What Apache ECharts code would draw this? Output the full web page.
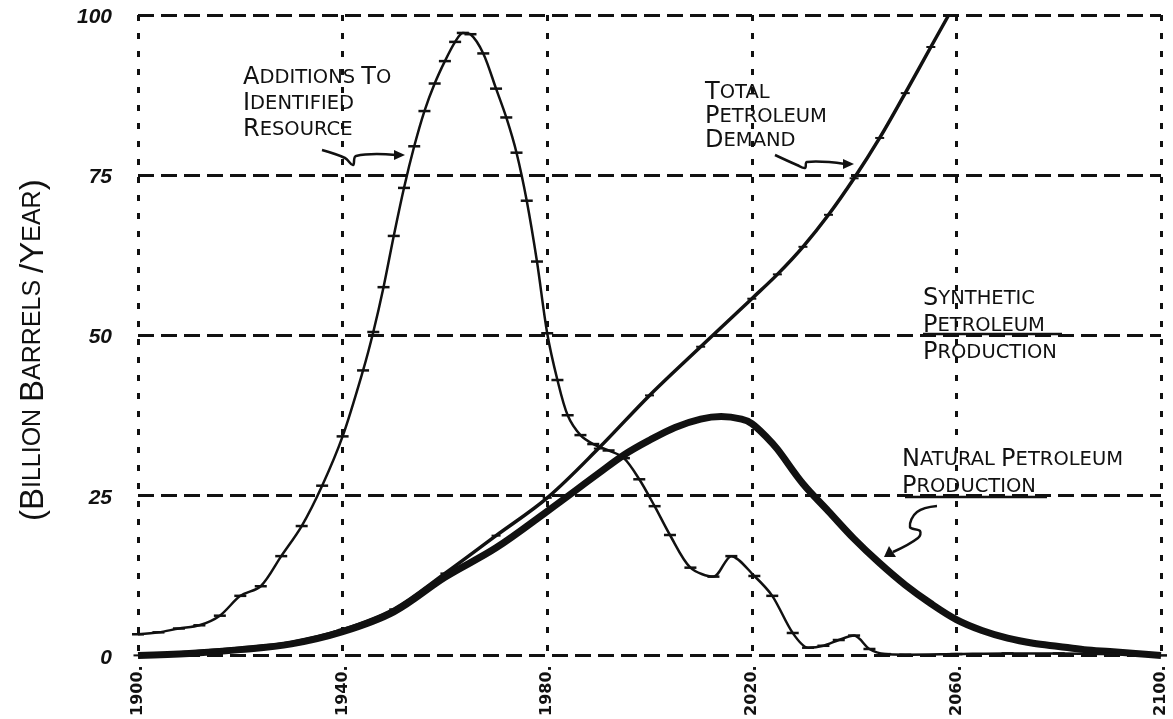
<!DOCTYPE html>
<html>
<head>
<meta charset="utf-8">
<script src="https://cdn.jsdelivr.net/npm/echarts@6/dist/echarts.min.js"></script>
<style>
html,body{margin:0;padding:0;background:#fff;}
#chart{width:1173px;height:719px;}
</style>
</head>
<body>
<div id="chart"></div>
<script>
// ---- data (years, billion barrels / year) ----
const baseYear = 1900;
const xTickYears = [1900, 1940, 1980, 2020, 2060, 2100];
const yTickValues = [0, 25, 50, 75, 100];

const additionsYears = [1900,1904,1908,1912,1916,1920,1924,1928,1932,1936,1940,1944,1946,1948,1950,1952,1954,1956,1958,1960,1962,1963.5,1965,1967.5,1970,1972,1974,1976,1978,1980,1982,1984,1986.5,1989,1992,1995,1998,2001,2004,2008,2012.5,2016,2020.5,2024,2028,2031,2034,2037,2040,2043,2046,2050,2060,2070,2080,2090,2100];
const additionsValues = [3.3,3.6,4.2,4.7,6.2,9.3,10.8,15.5,20.2,26.5,34.2,44.5,50.5,57.5,65.5,73.0,79.5,85.0,89.3,92.8,95.8,97.2,97.0,94.0,88.5,84.0,78.5,71.0,61.5,50.3,43.0,37.5,34.4,33.0,32.0,30.8,27.5,23.3,18.8,13.7,12.3,15.5,12.4,9.3,3.5,1.2,1.5,2.4,3.1,1.0,0.2,0.1,0.2,0.3,0.3,0.2,0.0];

const demandYears = [1900,1910,1920,1930,1940,1950,1960,1970,1980,1990,2000,2010,2020,2025,2030,2035,2040,2045,2050,2055,2058.5];
const demandValues = [0,0.5,1.1,2.0,4.0,7.2,12.8,18.7,24.6,32.3,40.6,48.2,55.7,59.5,63.8,68.8,74.5,80.8,87.8,95.0,100];

const naturalYears = [1900,1910,1920,1930,1940,1950,1960,1970,1980,1990,1995,2000,2005,2010,2014,2018,2020,2023,2025,2030,2035,2040,2045,2050,2055,2060,2065,2070,2075,2080,2085,2090,2095,2100];
const naturalValues = [0,0.3,0.9,1.8,3.7,6.8,12.2,16.8,22.5,28.4,31.3,33.6,35.6,36.9,37.3,36.9,36.2,34.0,32.2,26.8,22.5,18.2,14.4,11.0,8.1,5.6,3.9,2.7,1.9,1.4,0.9,0.6,0.3,0.0];

// ---- helpers ----
const pairs = (ys, vs) => ys.map((y, i) => [y - baseYear, vs[i]]);
function smallCaps(t) {
  return t.split('\n').map(line => line.split(' ').map(w => {
    const m = w.match(/^([^A-Za-z]*[A-Za-z])(.*)$/);
    if (!m) return '{b|' + w + '}';
    let rest = m[2].toUpperCase();
    let tail = '';
    const tm = rest.match(/^(.*?)([)]*)$/);
    if (tm) { rest = tm[1]; tail = tm[2]; }
    return '{b|' + m[1].toUpperCase() + '}' + (rest ? '{s|' + rest + '}' : '') + (tail ? '{b|' + tail + '}' : '');
  }).join('{s| }')).join('\n');
}
const INK = '#111';
const HAND = '"Liberation Sans", "DejaVu Sans", sans-serif';
const NOTE_FONT = '"DejaVu Sans", sans-serif';
function note(text, left, top, lh) {
  return {type: 'text', left: left, top: top, z: 50,
    style: {text: smallCaps(text), fill: INK, rich: {
      b: {fontSize: 24, fontFamily: NOTE_FONT, fill: INK, lineHeight: lh},
      s: {fontSize: 19.5, fontFamily: NOTE_FONT, fill: INK, lineHeight: lh}
    }}};
}
function arrow(pts, head) {
  return [
    {type: 'polyline', z: 50, shape: {points: pts, smooth: 0.4},
      style: {stroke: INK, lineWidth: 2.5, fill: null}},
    {type: 'polygon', z: 50, shape: {points: head}, style: {fill: INK}}
  ];
}

const chart = echarts.init(document.getElementById('chart'));
const option = {
  backgroundColor: '#fff',
  animation: false,
  grid: {left: 138, right: 12, top: 15, bottom: 61},
  xAxis: {
    type: 'value', min: 0, max: 200, interval: 40,
    axisLine: {show: false}, axisTick: {show: false},
    splitLine: {show: true, lineStyle: {color: INK, width: 3, type: [6, 12]}},
    axisLabel: {
      rotate: 90, margin: 10, color: INK, fontSize: 16, fontWeight: 'bold',
      fontFamily: '"DejaVu Sans", sans-serif',
      formatter: v => (v + baseYear) + '.'
    }
  },
  yAxis: {
    type: 'value', min: 0, max: 100, interval: 25,
    name: smallCaps('(Billion Barrels /Year)'),
    nameLocation: 'middle', nameRotate: 90, nameGap: 88,
    nameTextStyle: {
      padding: [0, 30, 0, 0],
      rich: {
        b: {fontSize: 33, fontFamily: HAND, color: INK},
        s: {fontSize: 25, fontFamily: HAND, color: INK}
      }
    },
    axisLine: {show: false}, axisTick: {show: false},
    splitLine: {show: true, lineStyle: {color: INK, width: 3, type: [16, 7]}},
    axisLabel: {
      margin: 26, color: INK, fontSize: 21, fontWeight: 'bold', fontStyle: 'italic',
      fontFamily: HAND, verticalAlign: 'top', padding: [-8, 0, 0, 0],
      formatter: v => yTickValues.indexOf(v) >= 0 ? String(v) : ''
    }
  },
  series: [
    {
      name: 'Natural Petroleum Production', type: 'line', smooth: 0.35,
      data: pairs(naturalYears, naturalValues),
      showSymbol: false, lineStyle: {color: INK, width: 7}, z: 3
    },
    {
      name: 'Total Petroleum Demand', type: 'line', smooth: 0.35,
      data: pairs(demandYears, demandValues),
      symbol: 'rect', symbolSize: [9, 2], itemStyle: {color: INK},
      lineStyle: {color: INK, width: 3.5}, z: 4
    },
    {
      name: 'Additions to Identified Resource', type: 'line', smooth: 0.3,
      data: pairs(additionsYears, additionsValues),
      symbol: 'rect', symbolSize: [12, 2.5], itemStyle: {color: INK},
      lineStyle: {color: INK, width: 2.5}, z: 5
    }
  ],
  graphic: [
    note('Additions to\nIdentified\nResource', 243, 66, 26),
    ...arrow([[322, 150], [345, 158], [353, 165], [356, 156], [396, 155]],
             [[394, 150], [405, 155], [394, 160]]),
    note('Total\nPetroleum\nDemand', 705, 81, 24),
    ...arrow([[775, 155], [797, 165], [805, 168], [807, 162], [845, 164]],
             [[843, 159], [854, 164], [843, 169]]),
    note('Synthetic\nPetroleum\nProduction', 923, 287, 27),
    {type: 'line', z: 49, shape: {x1: 923, y1: 334, x2: 1062, y2: 334}, style: {stroke: INK, lineWidth: 2.5}},
    note('Natural Petroleum\nProduction', 902, 448, 27),
    {type: 'line', z: 49, shape: {x1: 905, y1: 497, x2: 1047, y2: 497}, style: {stroke: INK, lineWidth: 2.5}},
    ...arrow([[937, 506], [917, 512], [910, 527], [920, 531], [918, 538], [893, 552]],
             [[889, 546], [884, 557], [896, 557]])
  ]
};
chart.setOption(option);
</script>
</body>
</html>
